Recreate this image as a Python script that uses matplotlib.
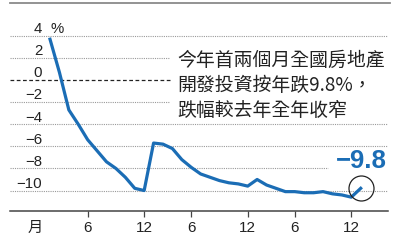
import matplotlib
matplotlib.use("Agg")
import matplotlib.pyplot as plt
import matplotlib.transforms as mtransforms
from matplotlib.lines import Line2D

plt.rcParams['font.family'] = ['Liberation Sans', 'Noto Sans CJK TC', 'DejaVu Sans']

# 全國房地產開發投資 累計按年 % (1-2月合併)
months = [2, 3, 4, 5, 6, 7, 8, 9, 10, 11, 12,
          2, 3, 4, 5, 6, 7, 8, 9, 10, 11, 12,
          2, 3, 4, 5, 6, 7, 8, 9, 10, 11, 12,
          2]
values = [3.7, 0.7, -2.7, -4.0, -5.4, -6.4, -7.4, -8.0, -8.8, -9.8, -10.0,
          -5.7, -5.8, -6.2, -7.2, -7.9, -8.5, -8.8, -9.1, -9.3, -9.4, -9.6,
          -9.0, -9.5, -9.8, -10.1, -10.1, -10.2, -10.2, -10.1, -10.3, -10.4, -10.6,
          -9.8]
y_ticks = [4, 2, 0, -2, -4, -6, -8, -10]
y_labels = ['4', '2', '0', '\u22122', '\u22124', '\u22126', '\u22128', '\u221210']
note = '今年首兩個月全國房地產\n開發投資按年跌9.8%，\n跌幅較去年全年收窄'
last_label = '\u22129.8'

blue = '#1b6db5'

fig = plt.figure(figsize=(4, 2.4), dpi=100)
ax = fig.add_axes([0.025, 0.121, 0.945, 0.866])
x = list(range(len(values)))
ax.set_xlim(-4.25, 35.9)
ax.set_ylim(-11.85, 6.97)

# gridlines (some are cut short where text sits)
grid_end = {4: 1.0, 2: 0.423, 0: 0.423, -2: 0.423, -4: 1.0, -6: 1.0, -8: 0.84, -10: 1.0}
for v in y_ticks:
    if v == 0:
        ax.axhline(v, xmax=grid_end[v], color='#222222', lw=0.9, ls=(0, (3, 2)), zorder=1)
    else:
        ax.axhline(v, xmax=grid_end[v], color='#9a9a9a', lw=0.8, ls=(0, (1, 1)), zorder=1)

# y labels sit just above each gridline
trans = mtransforms.blended_transform_factory(ax.transAxes, ax.transData)
for v, lab in zip(y_ticks, y_labels):
    ax.text(0.085, v + 0.25, lab, transform=trans, ha='right', va='baseline',
            fontsize=10.8, color='#222222')
ax.text(0.106, 4.25, '%', transform=trans, ha='left', va='baseline',
        fontsize=10.8, color='#222222')

ax.plot(x, values, color=blue, lw=2.3, solid_joinstyle='round', zorder=3)
ax.plot(x[-1], values[-1], marker='o', ms=18, mfc='none', mec='#222222', mew=0.9, zorder=4)

ax.text(0.997, -8.0, last_label, transform=trans, ha='right', va='baseline',
        fontsize=18.5, fontweight='bold', color=blue)
ax.text(0.443, 2.75, note, transform=trans, ha='left', va='top',
        fontsize=13.6, linespacing=1.25, color='#222222',
        family=['Noto Sans CJK TC', 'DejaVu Sans'])

# x axis
tick_pos = [-1.6] + [i for i, m in enumerate(months) if m in (6, 12)]
tick_lab = ['月'] + [str(months[i]) for i in tick_pos[1:]]
ax.set_xticks(tick_pos, tick_lab)
ax.tick_params(axis='x', length=4, width=0.9, color='#444444', pad=3,
               labelsize=11, labelcolor='#222222')
ax.xaxis.get_major_ticks()[0].tick1line.set_visible(False)
ax.set_yticks([])
for s in ['top', 'left', 'right']:
    ax.spines[s].set_visible(False)
ax.spines['bottom'].set_color('#444444')
ax.spines['bottom'].set_linewidth(1.1)

# top rule
fig.add_artist(Line2D([0.025, 0.975], [0.986, 0.986], color='#8a8a8a', lw=1.3))

fig.savefig('out.png', dpi=100)
